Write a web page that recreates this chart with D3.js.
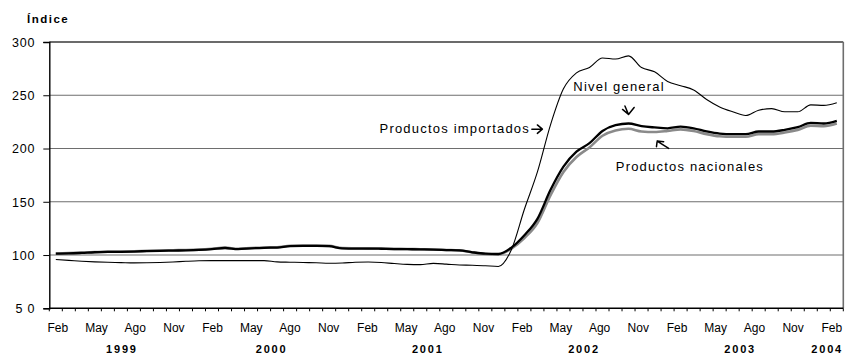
<!DOCTYPE html>
<html>
<head>
<meta charset="utf-8">
<script src="https://cdn.jsdelivr.net/npm/d3@7"></script>
<style>
  html, body { margin: 0; padding: 0; background: #fff; }
  svg { display: block; font-family: "Liberation Sans", Arial, sans-serif; }
</style>
</head>
<body>
<svg id="chart" width="846" height="355"></svg>
<script>
// ---------- DATA ----------
const monthNames = ["Ene","Feb","Mar","Abr","May","Jun","Jul","Ago","Sep","Oct","Nov","Dic"];
// categories: Feb 1999 .. Feb 2004 (61 months)
const categories = [];
for (let k = 0; k < 61; k++) {
  const m = (1 + k) % 12;
  const yr = 1999 + Math.floor((1 + k) / 12);
  categories.push({ month: monthNames[m], year: String(yr) });
}
const years = ["1999", "2000", "2001", "2002", "2003", "2004"];
const yTickValues = [50, 100, 150, 200, 250, 300];
const yTickLabels = ["5 0", "100", "150", "200", "250", "300"];

const nivelGeneral = [
  101.3, 101.5, 102.0, 102.6, 102.9, 103.0, 103.3, 103.7, 104.0, 104.2, 104.4,
  104.8, 105.5, 106.6, 105.6, 106.3, 106.8, 107.0, 108.4, 108.6, 108.6, 108.3, 106.3,
  106.1, 106.1, 105.9, 105.6, 105.5, 105.3, 105.1, 104.7, 104.4, 102.6, 101.3, 101.0,
  107.0, 118.6, 134.0, 161.0, 183.0, 197.0, 205.0, 216.5, 222.0, 223.5, 221.0, 219.8,
  219.0, 220.5, 219.0, 216.0, 214.0, 213.5, 213.5, 216.0, 216.0, 217.5, 220.0, 224.0,
  223.5, 226.0
];
const nacionales = [
  101.5, 101.8, 102.3, 102.8, 103.2, 103.3, 103.6, 104.0, 104.3, 104.5, 104.7,
  105.1, 105.9, 107.0, 105.9, 106.6, 107.1, 107.3, 108.7, 108.9, 108.9, 108.6, 106.6,
  106.4, 106.3, 106.1, 105.8, 105.7, 105.4, 105.2, 104.8, 104.4, 102.5, 101.0, 100.5,
  106.0, 116.0, 130.0, 156.0, 178.0, 192.0, 201.0, 212.0, 217.0, 218.5, 216.0, 215.5,
  216.5, 218.0, 216.5, 213.5, 211.5, 211.0, 211.0, 213.5, 213.5, 215.0, 217.5, 221.5,
  221.0, 223.5
];
const importados = [
  95.8, 95.0, 94.2, 93.6, 93.2, 92.9, 92.6, 92.7, 93.0, 93.5, 94.1,
  94.6, 94.8, 94.8, 94.8, 94.8, 94.8, 93.6, 93.3, 93.0, 92.8, 92.3, 92.5,
  93.2, 93.4, 93.0, 92.0, 91.2, 91.0, 92.2, 91.5, 90.6, 90.4, 89.9, 89.3,
  105.0, 143.0, 178.0, 222.0, 256.0, 271.0, 276.0, 285.0, 284.0, 287.0, 276.0, 272.0,
  263.0, 259.0, 255.0, 246.0, 239.0, 234.5, 231.0, 236.0, 237.5, 234.5, 234.5, 241.0,
  240.5, 243.0
];

// annotations: anchor (category index, value)
const annotations = [
  { text: "Nivel general", i: 39.76, v: 253.7, anchor: "start" },
  { text: "Productos importados", i: 36.43, v: 214.5, anchor: "end" },
  { text: "Productos nacionales", i: 43.02, v: 178.5, anchor: "start" }
];

(function () {
// ---------- SCALES ----------
const svg = d3.select("#chart");
const pLeft = 49.3, pRight = 843.3, pTop = 42, pBottom = 308.3;

const x = d3.scaleBand().domain(d3.range(categories.length)).range([pLeft, pRight]).padding(0);
const y = d3.scaleLinear().domain([50, 300]).range([pBottom, pTop]);
const xc = i => pLeft + (i + 0.5) * x.step();
const labelX = d3.scaleLinear().domain([0, categories.length - 1])
  .range([x(0) + x.bandwidth() / 2 + 2, x(categories.length - 1) + x.bandwidth() / 2 - 5]);

svg.append("rect").attr("width", 846).attr("height", 355).attr("fill", "#fff");

// gridlines
svg.append("g").selectAll("line")
  .data([100, 150, 200, 250])
  .join("line")
  .attr("x1", pLeft).attr("x2", pRight)
  .attr("y1", d => y(d)).attr("y2", d => y(d))
  .attr("stroke", "#6e6e6e").attr("stroke-width", 1.1);

// top line (300)
svg.append("line").attr("x1", pLeft).attr("x2", pRight)
  .attr("y1", y(300)).attr("y2", y(300))
  .attr("stroke", "#3a3a3a").attr("stroke-width", 1.6);

// right border
svg.append("line").attr("x1", pRight).attr("x2", pRight)
  .attr("y1", y(300)).attr("y2", y(50))
  .attr("stroke", "#6e6e6e").attr("stroke-width", 1.6);

// y axis
const yAxis = d3.axisLeft(y).tickValues(yTickValues).tickSize(6)
  .tickFormat((d, k) => yTickLabels[k]);
const gy = svg.append("g").attr("transform", `translate(${pLeft},0)`).call(yAxis);
gy.select(".domain").attr("stroke", "#000").attr("stroke-width", 1.4);
gy.selectAll(".tick line").attr("stroke", "#000").attr("stroke-width", 1);
gy.selectAll(".tick text")
  .attr("x", -14).attr("dy", "0.34em")
  .attr("font-size", 12.5).attr("letter-spacing", "0.8px")
  .attr("font-family", "'Liberation Sans', Arial, sans-serif").attr("fill", "#000");

// x axis (ticks at category boundaries)
const boundaries = d3.range(categories.length + 1);
svg.append("line").attr("x1", pLeft).attr("x2", pRight)
  .attr("y1", pBottom).attr("y2", pBottom)
  .attr("stroke", "#000").attr("stroke-width", 1.4);
svg.append("g").selectAll("line")
  .data(boundaries)
  .join("line")
  .attr("x1", d => pLeft + d * x.step()).attr("x2", d => pLeft + d * x.step())
  .attr("y1", pBottom).attr("y2", pBottom + 3)
  .attr("stroke", "#000").attr("stroke-width", 1);

// month labels (every third)
svg.append("g").selectAll("text")
  .data(categories.map((c, i) => ({ c, i })).filter(d => d.i % 3 === 0))
  .join("text")
  .attr("x", d => labelX(d.i))
  .attr("y", 331.5)
  .attr("text-anchor", "middle")
  .attr("font-size", 12)
  .attr("fill", "#000")
  .text(d => d.c.month);

// year labels
const yearText = svg.append("g").selectAll("text")
  .data(years)
  .join("text")
  .attr("x", yr => {
    const idx = categories.map((c, i) => c.year === yr ? i : -1).filter(i => i >= 0);
    return (xc(idx[0]) + xc(idx[idx.length - 1])) / 2 + 1;
  })
  .attr("y", 352.5)
  .attr("text-anchor", "middle")
  .attr("font-size", 11)
  .attr("font-weight", "bold")
  .attr("letter-spacing", "1.8px")
  .attr("fill", "#000")
  .text(d => d);
// keep the last year label inside the picture
yearText.each(function () {
  const bb = this.getBBox();
  const over = bb.x + bb.width - 843;
  if (over > 0) d3.select(this).attr("x", +d3.select(this).attr("x") - over);
});

// y title
svg.append("text").attr("x", 27).attr("y", 22.5)
  .attr("font-size", 11.5).attr("font-weight", "bold")
  .attr("letter-spacing", "1.5px")
  .text("Índice");

// lines
const line = d3.line().x((d, i) => xc(i)).y(d => y(d)).curve(d3.curveMonotoneX);

svg.append("path").datum(nacionales)
  .attr("d", line).attr("fill", "none")
  .attr("stroke", "#8a8a8a").attr("stroke-width", 2.6)
  .attr("stroke-linejoin", "round");
svg.append("path").datum(nivelGeneral)
  .attr("d", line).attr("fill", "none")
  .attr("stroke", "#000").attr("stroke-width", 2.3)
  .attr("stroke-linejoin", "round");
svg.append("path").datum(importados)
  .attr("d", line).attr("fill", "none")
  .attr("stroke", "#000").attr("stroke-width", 1.1)
  .attr("stroke-linejoin", "round");

// annotation texts
svg.append("g").selectAll("text")
  .data(annotations)
  .join("text")
  .attr("x", d => xc(d.i))
  .attr("y", d => y(d.v))
  .attr("text-anchor", d => d.anchor)
  .attr("font-size", 13)
  .attr("letter-spacing", "1.2px")
  .attr("fill", "#000")
  .text(d => d.text);

// annotation arrows: tip anchored at (category index, value), drawn with relative offsets
const arrows = [
  { i: 44.0, v: 232.0, path: "M-3.6,-8.5 L0,0 M-6,-5 L0,0 L5.6,-7" },
  { i: 37.38, v: 218.2, path: "M-10.5,0 L0,0 M-5,-4.2 L0,0 L-5,4.2" },
  { i: 46.2, v: 207.0, path: "M11.5,7.3 L0,0 M-0.7,5.6 L0,0 L6.5,0.6" }
];
svg.append("g").selectAll("path")
  .data(arrows)
  .join("path")
  .attr("transform", d => `translate(${xc(d.i)},${y(d.v)})`)
  .attr("d", d => d.path)
  .attr("fill", "none")
  .attr("stroke", "#000")
  .attr("stroke-width", 1.5)
  .attr("stroke-linecap", "round")
  .attr("stroke-linejoin", "round");
})();
</script>
</body>
</html>
